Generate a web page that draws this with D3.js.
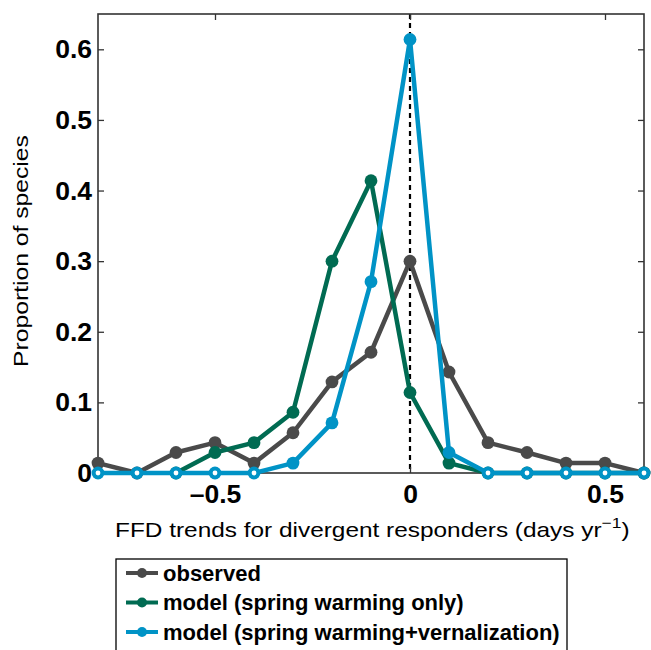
<!DOCTYPE html>
<html>
<head>
<meta charset="utf-8">
<script src="https://cdn.jsdelivr.net/npm/d3@7"></script>
<style>
  body { margin: 0; background: #fff; }
  svg { font-family: "Liberation Sans", Arial, sans-serif; }
</style>
</head>
<body>
<div id="chart"></div>
<script>
// Bin centres (days per year)
const trendBins = [-0.8, -0.7, -0.6, -0.5, -0.4, -0.3, -0.2, -0.1, 0, 0.1, 0.2, 0.3, 0.4, 0.5, 0.6];

// Proportion of species per bin
const observed = [0.014, 0, 0.029, 0.043, 0.014, 0.057, 0.129, 0.171, 0.3, 0.143, 0.043, 0.029, 0.014, 0.014, 0];
const springOnly = [0, 0, 0, 0.029, 0.043, 0.086, 0.3, 0.414, 0.114, 0.014, 0, 0, 0, 0, 0];
const springVern = [0, 0, 0, 0, 0, 0.014, 0.071, 0.271, 0.614, 0.029, 0, 0, 0, 0, 0];

const seriesNames = ["observed", "model (spring warming only)", "model (spring warming+vernalization)"];
const seriesColors = ["#4a4a4a", "#006b52", "#0093c6"];

const xTicks = [-0.5, 0, 0.5];
const yTicks = [0, 0.1, 0.2, 0.3, 0.4, 0.5, 0.6];

const width = 651, height = 650;
const margin = { left: 98, right: 7, top: 14, bottom: 177 };

const svg = d3.select("#chart").append("svg")
    .attr("width", width)
    .attr("height", height);

const x = d3.scaleLinear().domain([-0.8, 0.6]).range([margin.left, width - margin.right]);
const y = d3.scaleLinear().domain([0, 0.65]).range([height - margin.bottom, margin.top]);

const fmt = d => d === 0 ? "0" : (d < 0 ? "\u2013" + Math.abs(d) : String(d));

// dashed zero line
svg.append("line")
    .attr("x1", x(0)).attr("x2", x(0))
    .attr("y1", y(0.65)).attr("y2", y(0))
    .attr("stroke", "#000")
    .attr("stroke-width", 2.2)
    .attr("stroke-dasharray", "5,4");

// axes, ticks inside
const tickLen = 6;
svg.append("g")
    .attr("transform", `translate(0,${y(0)})`)
    .call(d3.axisBottom(x).tickValues(xTicks).tickSize(-tickLen).tickPadding(11).tickFormat(fmt))
    .call(g => g.select(".domain").remove());
svg.append("g")
    .attr("transform", `translate(0,${y(0.65)})`)
    .call(d3.axisTop(x).tickValues(xTicks).tickSize(-tickLen).tickFormat(""))
    .call(g => g.select(".domain").remove());
svg.append("g")
    .attr("transform", `translate(${x(-0.8)},0)`)
    .call(d3.axisLeft(y).tickValues(yTicks).tickSize(-tickLen).tickPadding(6).tickFormat(fmt))
    .call(g => g.select(".domain").remove());
svg.append("g")
    .attr("transform", `translate(${x(0.6)},0)`)
    .call(d3.axisRight(y).tickValues(yTicks).tickSize(-tickLen).tickFormat(""))
    .call(g => g.select(".domain").remove());

svg.selectAll(".tick line").attr("stroke", "#333").attr("stroke-width", 1.3);
svg.selectAll(".tick text")
    .attr("fill", "#000")
    .style("font-size", "26.5px")
    .style("font-weight", "bold")
    .style("font-family", "'Liberation Sans', Arial, sans-serif");

// box
svg.append("rect")
    .attr("x", x(-0.8)).attr("y", y(0.65))
    .attr("width", x(0.6) - x(-0.8))
    .attr("height", y(0) - y(0.65))
    .attr("fill", "none")
    .attr("stroke", "#333")
    .attr("stroke-width", 1.6);

// series lines + markers
const allSeries = [observed, springOnly, springVern];

allSeries.forEach((vals, k) => {
    // the green model line starts at -0.6
    const pts = vals.map((v, i) => ({ v, i })).filter(p => k !== 1 || trendBins[p.i] >= -0.6);
    svg.append("path")
        .datum(pts)
        .attr("fill", "none")
        .attr("stroke", seriesColors[k])
        .attr("stroke-width", 4.5)
        .attr("stroke-linejoin", "round")
        .attr("d", d3.line().x(p => x(trendBins[p.i])).y(p => y(p.v)));
    svg.selectAll(null)
        .data(pts)
        .enter().append("circle")
        .attr("cx", p => x(trendBins[p.i]))
        .attr("cy", p => y(p.v))
        .attr("r", 6.4)
        .attr("fill", seriesColors[k]);
});

// white centres on the zero-valued blue markers
svg.selectAll(null)
    .data(springVern.map((v, i) => ({ v, i })).filter(p => p.v === 0))
    .enter().append("circle")
    .attr("cx", p => x(trendBins[p.i]))
    .attr("cy", p => y(p.v))
    .attr("r", 2.4)
    .attr("fill", "#fff");

// axis labels (the original font runs wider, so stretch along the text)
const xLab = svg.append("text")
    .attr("x", 0).attr("y", 0)
    .style("font-size", "21px")
    .html('FFD trends for divergent responders (days yr<tspan dy="-9" font-size="15px">\u22121</tspan><tspan dy="9">)</tspan>');
const xw = xLab.node().getComputedTextLength();
xLab.attr("transform", `translate(115,537) scale(${515 / xw},1)`);

const yLab = svg.append("text")
    .attr("text-anchor", "middle")
    .style("font-size", "21px")
    .text("Proportion of species");
const yw = yLab.node().getComputedTextLength();
yLab.attr("transform", `translate(28,251) rotate(-90) scale(${232 / yw},1)`);

// legend
const lg = svg.append("g");
lg.append("rect")
    .attr("x", 116).attr("y", 559)
    .attr("width", 451).attr("height", 100)
    .attr("fill", "#fff")
    .attr("stroke", "#000")
    .attr("stroke-width", 1.3);
seriesNames.forEach((name, k) => {
    const cy = 573 + k * 29.5;
    lg.append("line")
        .attr("x1", 126).attr("x2", 158)
        .attr("y1", cy).attr("y2", cy)
        .attr("stroke", seriesColors[k])
        .attr("stroke-width", 4);
    lg.append("circle")
        .attr("cx", 142).attr("cy", cy).attr("r", 5)
        .attr("fill", seriesColors[k]);
    lg.append("text")
        .attr("x", 163).attr("y", cy + 7.5)
        .style("font-size", "22px")
        .style("font-weight", "bold")
        .text(name);
});
</script>
</body>
</html>
